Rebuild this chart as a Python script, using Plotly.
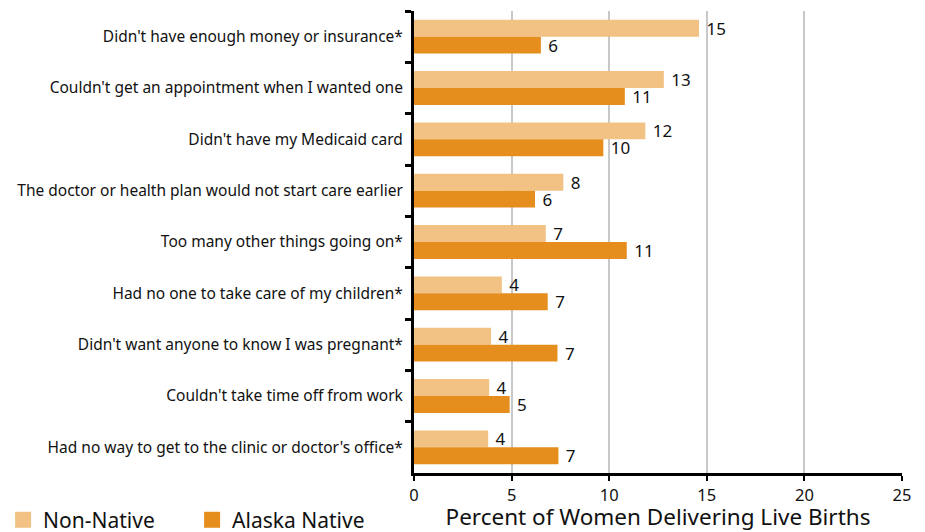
import plotly.graph_objects as go

reasons = [
    "Didn't have enough money or insurance*",
    "Couldn't get an appointment when I wanted one",
    "Didn't have my Medicaid card",
    "The doctor or health plan would not start care earlier",
    "Too many other things going on*",
    "Had no one to take care of my children*",
    "Didn't want anyone to know I was pregnant*",
    "Couldn't take time off from work",
    "Had no way to get to the clinic or doctor's office*",
]
non_native = [14.6, 12.8, 11.85, 7.65, 6.75, 4.5, 3.95, 3.85, 3.8]
non_native_lbl = [15, 13, 12, 8, 7, 4, 4, 4, 4]
alaska_native = [6.5, 10.8, 9.7, 6.2, 10.9, 6.85, 7.35, 4.9, 7.4]
alaska_native_lbl = [6, 11, 10, 6, 11, 7, 7, 5, 7]

c_light = "#F1C284"
c_dark = "#E58E1E"
FONT = "Noto Sans"

fig = go.Figure()
fig.add_trace(go.Bar(y=reasons, x=non_native, orientation="h", name="Non-Native",
                     marker=dict(color=c_light, line_width=0),
                     text=non_native_lbl, texttemplate=" %{text}", textposition="outside",
                     constraintext="none",
                     textfont=dict(size=17, color="#111"), cliponaxis=False, showlegend=False))
fig.add_trace(go.Bar(y=reasons, x=alaska_native, orientation="h", name="Alaska Native",
                     marker=dict(color=c_dark, line_width=0),
                     text=alaska_native_lbl, texttemplate=" %{text}", textposition="outside",
                     constraintext="none",
                     textfont=dict(size=17, color="#111"), cliponaxis=False, showlegend=False))

# legend entries with bigger squares
for nm, col in [("Non-Native", c_light), ("Alaska Native", c_dark)]:
    fig.add_trace(go.Scatter(x=[None], y=[None], mode="markers", name=nm,
                             marker=dict(symbol="square", size=16, color=col)))

# page body adds an 8px offset, so the figure is 8px smaller
fig.update_layout(
    width=917, height=524,
    margin=dict(l=406, r=23, t=3, b=59, autoexpand=False),
    paper_bgcolor="white", plot_bgcolor="white",
    font=dict(family=FONT, color="#111"),
    barmode="group", bargap=0.34, bargroupgap=0,
    legend=dict(orientation="h", x=-0.842, xanchor="left", y=-0.102, yanchor="middle",
                font=dict(size=21), itemsizing="trace", entrywidth=144,
                bgcolor="rgba(0,0,0,0)"),
    xaxis=dict(range=[0, 25], dtick=5, showgrid=True, gridcolor="#C8C8C8", gridwidth=2,
               zeroline=False, showline=True, linecolor="black", linewidth=3,
               ticks="outside", ticklen=5, tickwidth=2, tickcolor="black",
               tickfont=dict(size=16.5), automargin=False,
               title=dict(text="Percent of Women Delivering Live Births",
                          font=dict(size=22.5), standoff=9)),
    yaxis=dict(autorange="reversed", showline=True, linecolor="black", linewidth=3,
               ticks="outside", tickson="boundaries", ticklen=6, tickwidth=3,
               tickcolor="black", tickfont=dict(size=15.5), showgrid=False,
               automargin=False, ticklabelstandoff=5),
)

fig.write_html("out.html")
